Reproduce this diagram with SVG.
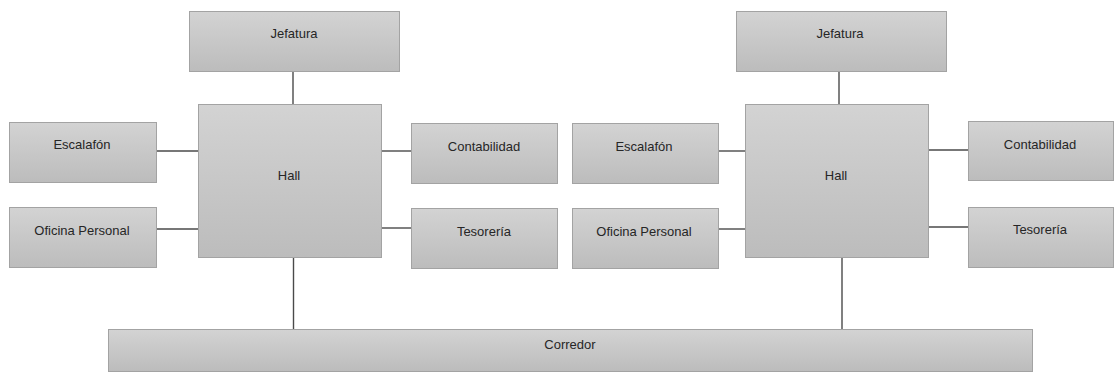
<svg xmlns="http://www.w3.org/2000/svg" width="1115" height="372" viewBox="0 0 1115 372">
<defs>
<linearGradient id="g" x1="0" y1="0" x2="0" y2="1">
<stop offset="0" stop-color="#d3d3d3"/>
<stop offset="1" stop-color="#bcbcbc"/>
</linearGradient>
<style>
.box{fill:url(#g);stroke:#a3a3a3;stroke-width:1}
.lbl{font-family:"Liberation Sans",Arial,sans-serif;font-size:13px;fill:#262626;text-anchor:middle}
.con line{stroke:#4a4a4a;stroke-width:1.4}
</style>
</defs>
<rect width="1115" height="372" fill="#ffffff"/>
<g id="connectors" class="con">
<line x1="293" y1="71" x2="293" y2="104"/>
<line x1="156" y1="151" x2="198" y2="151"/>
<line x1="156" y1="229" x2="198" y2="229"/>
<line x1="381" y1="151" x2="411" y2="151"/>
<line x1="381" y1="228" x2="411" y2="228"/>
<line x1="293.5" y1="257" x2="293.5" y2="329"/>
<line x1="839" y1="71" x2="839" y2="104"/>
<line x1="718" y1="151" x2="745" y2="151"/>
<line x1="718" y1="229" x2="745" y2="229"/>
<line x1="928" y1="150" x2="968" y2="150"/>
<line x1="928" y1="227" x2="968" y2="227"/>
<line x1="842" y1="257" x2="842" y2="330"/>
</g>
<g id="jefatura-1"><rect class="box" x="189.5" y="11.5" width="210" height="60"/><text class="lbl" x="294" y="38">Jefatura</text></g>
<g id="hall-1"><rect class="box" x="198.5" y="104.5" width="183" height="153"/><text class="lbl" x="289" y="180">Hall</text></g>
<g id="escalafon-1"><rect class="box" x="9.5" y="122.5" width="147" height="60"/><text class="lbl" x="82" y="149">Escalafón</text></g>
<g id="oficina-1"><rect class="box" x="9.5" y="207.5" width="147" height="60"/><text class="lbl" x="82" y="235">Oficina Personal</text></g>
<g id="contabilidad-1"><rect class="box" x="411.5" y="123.5" width="146" height="60"/><text class="lbl" x="484" y="151">Contabilidad</text></g>
<g id="tesoreria-1"><rect class="box" x="411.5" y="208.5" width="146" height="60"/><text class="lbl" x="484" y="236">Tesorería</text></g>
<g id="jefatura-2"><rect class="box" x="736.5" y="11.5" width="210" height="60"/><text class="lbl" x="840" y="38">Jefatura</text></g>
<g id="hall-2"><rect class="box" x="745.5" y="104.5" width="183" height="153"/><text class="lbl" x="836" y="180">Hall</text></g>
<g id="escalafon-2"><rect class="box" x="572.5" y="123.5" width="146" height="60"/><text class="lbl" x="644" y="151">Escalafón</text></g>
<g id="oficina-2"><rect class="box" x="572.5" y="208.5" width="146" height="60"/><text class="lbl" x="644" y="236">Oficina Personal</text></g>
<g id="contabilidad-2"><rect class="box" x="968.5" y="121.5" width="145" height="59"/><text class="lbl" x="1040" y="149">Contabilidad</text></g>
<g id="tesoreria-2"><rect class="box" x="968.5" y="207.5" width="145" height="60"/><text class="lbl" x="1040" y="234">Tesorería</text></g>
<g id="corredor"><rect class="box" x="108.5" y="329.5" width="924" height="42"/><text class="lbl" x="570" y="349">Corredor</text></g>
</svg>
